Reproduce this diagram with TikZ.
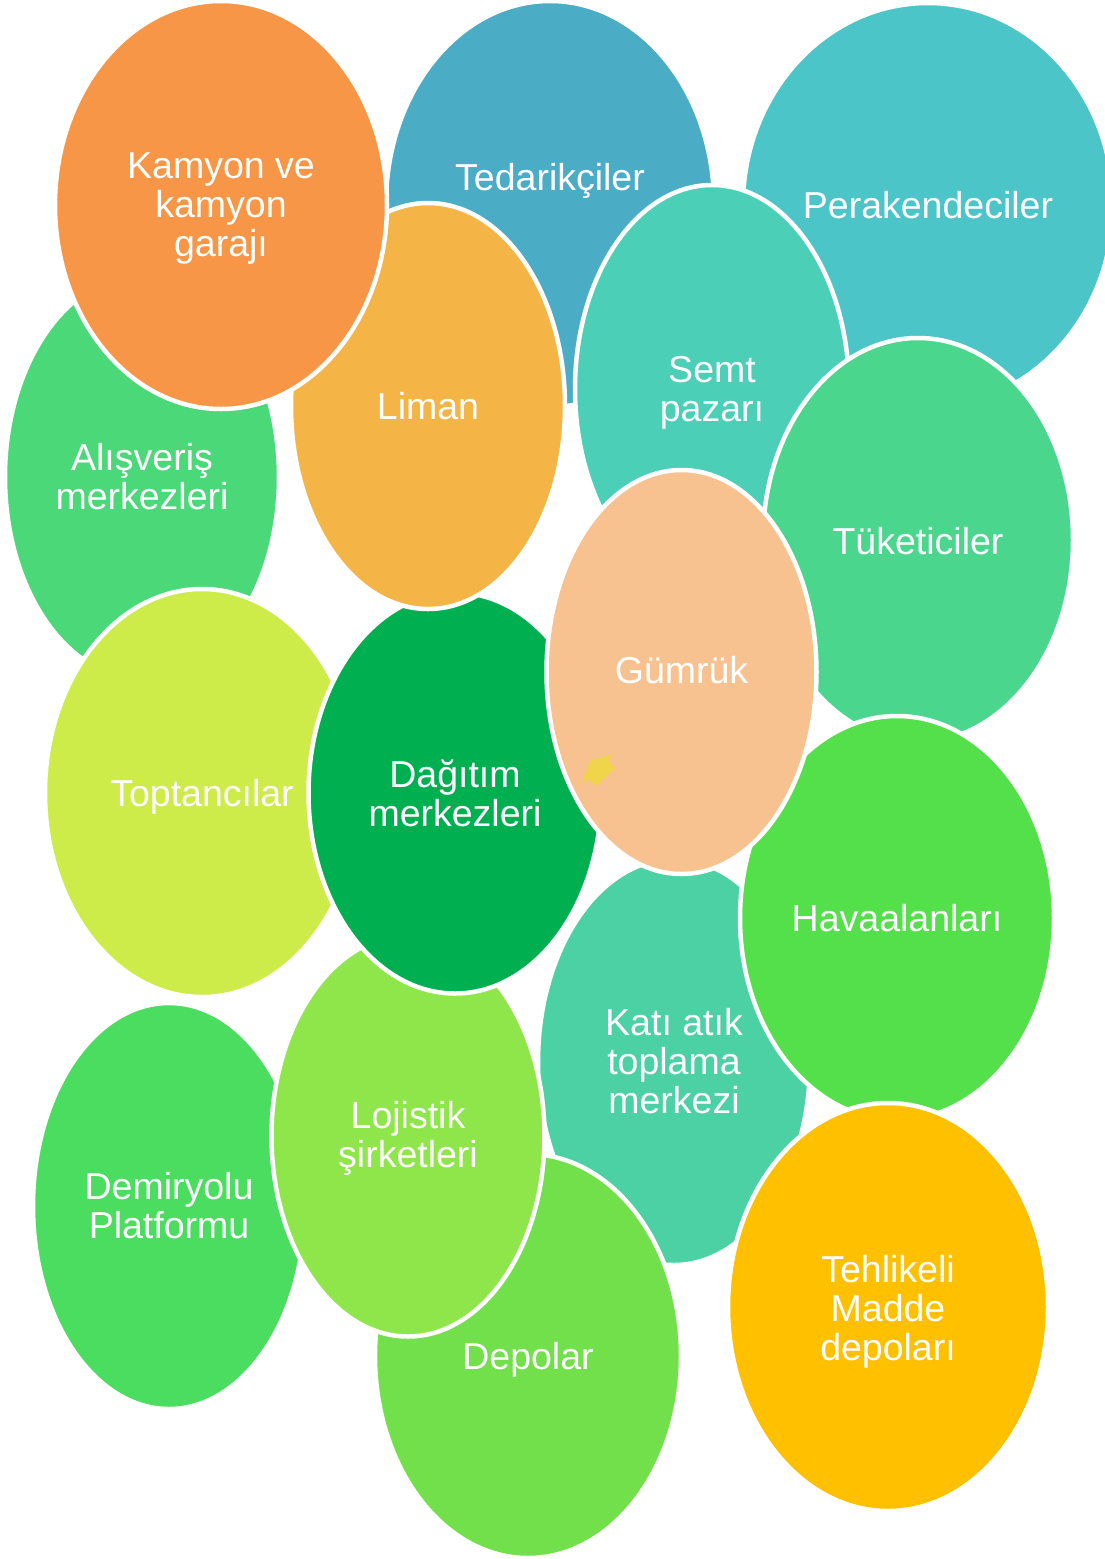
\documentclass[tikz,border=0pt]{standalone}
\usepackage{fontspec}
\setmainfont{Liberation Sans}
\usetikzlibrary{shapes.geometric}

% Bubble colours
\definecolor{cTed}{HTML}{4BACC6}
\definecolor{cPer}{HTML}{4BC5C8}
\definecolor{cKam}{HTML}{F79646}
\definecolor{cLim}{HTML}{F4B446}
\definecolor{cSem}{HTML}{4BCFB7}
\definecolor{cAli}{HTML}{4BD878}
\definecolor{cTuk}{HTML}{4BD68D}
\definecolor{cGum}{HTML}{F8C290}
\definecolor{cTop}{HTML}{CDEC4A}
\definecolor{cDag}{HTML}{00B050}
\definecolor{cHav}{HTML}{54E04A}
\definecolor{cKat}{HTML}{4BD1A3}
\definecolor{cLoj}{HTML}{8FE64A}
\definecolor{cDem}{HTML}{4BDD5F}
\definecolor{cDep}{HTML}{72E04A}
\definecolor{cTeh}{HTML}{FFC000}
\definecolor{cMark}{HTML}{F0D44A}

\tikzset{
  bubble/.style={ellipse, draw=white, line width=4.5pt, inner sep=0pt, outer sep=0pt},
  caption/.style={text=white, align=center, inner sep=0pt,
    font=\fontsize{37.5}{39}\selectfont}
}

\begin{document}
\begin{tikzpicture}[x=1pt, y=-1pt]
\useasboundingbox (0,0) rectangle (1105,1559);

% back row
\node[bubble, fill=cTed, minimum width=328pt, minimum height=406pt] (ted) at (550,204) {};
\node[caption] (tedtext) at ([yshift=23pt]ted.center) {Tedarikçiler};

\node[bubble, fill=cPer, minimum width=370pt, minimum height=404pt] (per) at (928,205) {};
\node[caption] (pertext) at (per.center) {Perakendeciler};

\node[bubble, fill=cAli, minimum width=274pt, minimum height=404pt] (ali) at (142,477) {};
\node[caption] (alitext) at (ali.center) {Alışveriş\\merkezleri};

\node[bubble, fill=cTop, minimum width=314pt, minimum height=408pt] (top) at (202,793) {};
\node[caption] (toptext) at ([yshift=-4pt]top.center) {Toptancılar};

\node[bubble, fill=cDem, minimum width=272pt, minimum height=406pt] (dem) at (169,1206) {};
\node[caption] (demtext) at (dem.center) {Demiryolu\\Platformu};

\node[bubble, fill=cKat, minimum width=272pt, minimum height=406pt] (kat) at (674,1062) {};
\node[caption] (kattext) at ([yshift=1pt]kat.center) {Katı atık\\toplama\\merkezi};

\node[bubble, fill=cDep, minimum width=306pt, minimum height=404pt] (dep) at (528,1356) {};
\node[caption] (deptext) at ([yshift=-4pt]dep.center) {Depolar};

\node[bubble, fill=cLoj, minimum width=273pt, minimum height=401pt] (loj) at (408,1136) {};
\node[caption] (lojtext) at ([yshift=-2pt]loj.center) {Lojistik\\şirketleri};

\node[bubble, fill=cDag, minimum width=293pt, minimum height=401pt] (dag) at (455,793) {};
\node[caption] (dagtext) at (dag.center) {Dağıtım\\merkezleri};

\node[bubble, fill=cLim, minimum width=274pt, minimum height=406pt] (lim) at (428,406) {};
\node[caption] (limtext) at (lim.center) {Liman};

\node[bubble, fill=cKam, minimum width=332pt, minimum height=408pt] (kam) at (221,205) {};
\node[caption] (kamtext) at ([yshift=-3pt]kam.center) {Kamyon ve\\kamyon\\garajı};

\node[bubble, fill=cSem, minimum width=274pt, minimum height=408pt] (sem) at (712,389) {};
\node[caption] (semtext) at ([yshift=-4pt]sem.center) {Semt\\pazarı};

\node[bubble, fill=cTuk, minimum width=310pt, minimum height=404pt] (tuk) at (918,540) {};
\node[caption] (tuktext) at ([yshift=-1pt]tuk.center) {Tüketiciler};

\node[bubble, fill=cHav, minimum width=314pt, minimum height=404pt] (hav) at (897,918) {};
\node[caption] (havtext) at (hav.center) {Havaalanları};

\node[bubble, fill=cTeh, minimum width=320pt, minimum height=408pt] (teh) at (888,1307) {};
\node[caption] (tehtext) at ([yshift=-5pt]teh.center) {Tehlikeli\\Madde\\depoları};

% front bubble
\node[bubble, fill=cGum, minimum width=270pt, minimum height=404pt] (gum) at (681.5,672) {};
\node[caption] (gumtext) at ([yshift=2pt]gum.center) {Gümrük};

% small yellow mark inside the front bubble
\fill[cMark] (581.7,783.3) -- (590,760.7) -- (613.3,754) -- (608.3,760)
  -- (615,768.3) -- (596,786) -- (588.3,779.3) -- cycle;
\end{tikzpicture}
\end{document}
